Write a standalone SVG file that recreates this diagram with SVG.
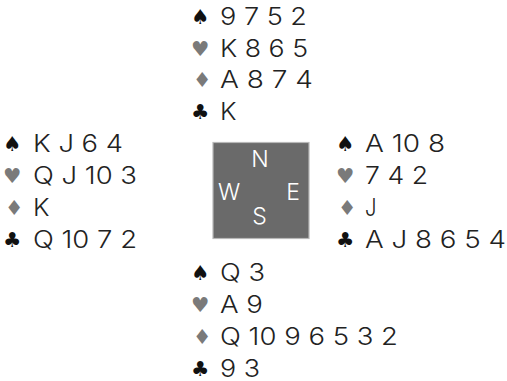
<svg xmlns="http://www.w3.org/2000/svg" width="507" height="381" viewBox="0 0 507 381">
<style>
.t{font-family:Inter,"Liberation Sans",sans-serif;font-size:24px;font-weight:300;fill:#222}
.s{font-family:"DejaVu Sans",sans-serif;font-size:20.5px}
.b{fill:#111}
.r{fill:#7a7a7a}
.c{font-family:Inter,"Liberation Sans",sans-serif;font-size:23px;font-weight:300;fill:#fff;text-anchor:middle}
</style>
<rect width="507" height="381" fill="#fff"/>
<g id="north">
<text class="s b" x="191" y="24">♠</text><text class="t" x="220" y="25" textLength="87" lengthAdjust="spacingAndGlyphs">9 7 5 2</text>
<text class="s r" x="191" y="56">♥</text><text class="t" x="220" y="56.5" textLength="88" lengthAdjust="spacingAndGlyphs">K 8 6 5</text>
<text class="s r" x="193" y="87">♦</text><text class="t" x="220" y="88" textLength="93" lengthAdjust="spacingAndGlyphs">A 8 7 4</text>
<text class="s b" x="191" y="119">♣</text><text class="t" x="220" y="119.5" textLength="16.5" lengthAdjust="spacingAndGlyphs">K</text>
</g>
<g id="west">
<text class="s b" x="3" y="151">♠</text><text class="t" x="33" y="152" textLength="90" lengthAdjust="spacingAndGlyphs">K J 6 4</text>
<text class="s r" x="3" y="183">♥</text><text class="t" x="33" y="184" textLength="104" lengthAdjust="spacingAndGlyphs">Q J 10 3</text>
<text class="s r" x="5" y="215">♦</text><text class="t" x="33" y="216" textLength="16.5" lengthAdjust="spacingAndGlyphs">K</text>
<text class="s b" x="3" y="247">♣</text><text class="t" x="33" y="248" textLength="104" lengthAdjust="spacingAndGlyphs">Q 10 7 2</text>
</g>
<g id="east">
<text class="s b" x="336" y="151">♠</text><text class="t" x="365" y="152" textLength="80" lengthAdjust="spacingAndGlyphs">A 10 8</text>
<text class="s r" x="336" y="183">♥</text><text class="t" x="365" y="184" textLength="63" lengthAdjust="spacingAndGlyphs">7 4 2</text>
<text class="s r" x="338" y="215">♦</text><text class="t" x="365" y="216" textLength="11.5" lengthAdjust="spacingAndGlyphs">J</text>
<text class="s b" x="336" y="247">♣</text><text class="t" x="365" y="248" textLength="141" lengthAdjust="spacingAndGlyphs">A J 8 6 5 4</text>
</g>
<g id="south">
<text class="s b" x="191" y="280">♠</text><text class="t" x="220" y="280.5" textLength="45" lengthAdjust="spacingAndGlyphs">Q 3</text>
<text class="s r" x="191" y="312">♥</text><text class="t" x="220" y="312.5" textLength="43" lengthAdjust="spacingAndGlyphs">A 9</text>
<text class="s r" x="193" y="344">♦</text><text class="t" x="220" y="344.5" textLength="178" lengthAdjust="spacingAndGlyphs">Q 10 9 6 5 3 2</text>
<text class="s b" x="191" y="376">♣</text><text class="t" x="220" y="376.5" textLength="40" lengthAdjust="spacingAndGlyphs">9 3</text>
</g>
<g id="compass">
<rect x="213" y="142.5" width="96" height="96" fill="#6a6a6a" stroke="#b8b8b8" stroke-width="1.2"/>
<text class="c" x="260" y="167">N</text>
<text class="c" x="229" y="200">W</text>
<text class="c" x="293" y="200">E</text>
<text class="c" x="259.5" y="224">S</text>
</g>
</svg>
